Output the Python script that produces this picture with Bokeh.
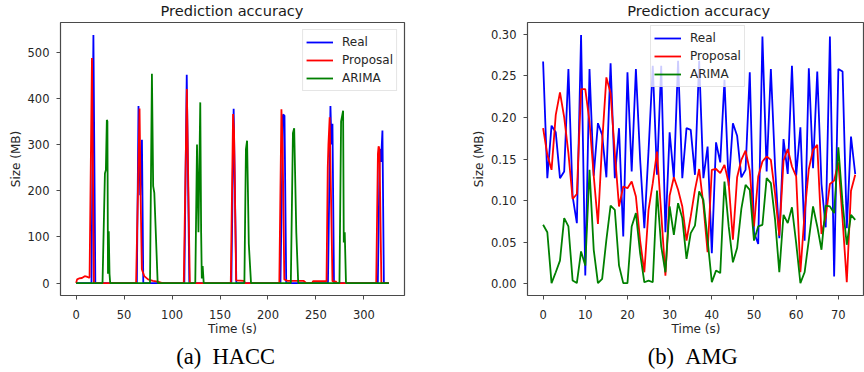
from bokeh.plotting import figure
from bokeh.models import Range1d, FixedTicker, NumeralTickFormatter, Title
from bokeh.layouts import row
from bokeh.embed import file_html
from bokeh.resources import INLINE

# ---------------- HACC data (polyline vertices) ----------------
hacc_real_t = [0, 16, 18, 20, 63.3, 65, 66.8, 68.6, 70, 112.8, 115.3, 118, 161.8, 164.2, 167,
               213, 215.6, 217.2, 219, 262.5, 265.1, 266.2, 267.2, 268.8, 314.5, 316.5, 317.8,
               319.3, 320.8, 326]
hacc_real_v = [0, 0, 537, 0, 0, 383, 190, 310, 0, 0, 451, 0, 0, 377, 0,
               0, 365, 362, 0, 0, 383, 300, 345, 0, 0, 290, 262,
               330, 0, 0]
hacc_prop_t = [0, 1, 3, 6, 9, 11, 13, 14, 16.5, 18.5,
               62.5, 66.1, 67.3, 68.5, 71, 75, 80, 85, 90,
               112.2, 115.4, 118.5,
               161.2, 163.6, 164.6, 166.8, 175, 176,
               211.8, 214, 215.3, 217, 220, 237, 240,
               246, 247, 261, 262.3, 263, 264.3, 265.6, 267.2, 271, 272,
               312.8, 314.6, 315.3, 316.2, 318.2, 326]
hacc_prop_v = [0, 8, 10, 11, 15, 14, 12, 12, 487, 0,
               0, 378, 180, 30, 15, 8, 5, 3, 0,
               0, 420, 0,
               0, 366, 330, 6, 5, 0,
               0, 376, 290, 8, 5, 5, 0,
               0, 4, 4, 250, 300, 359, 200, 4, 3, 0,
               0, 280, 296, 290, 0, 0]
hacc_arima_t = [0, 27.5, 30, 31, 32, 32.6, 33.2, 34, 34.8, 35.5,
                77, 79, 80.3, 81.5, 85,
                124.2, 126, 127.5, 129.4, 130.3, 131, 131.9, 133,
                175.4, 177, 178.2, 180, 182.3,
                223.8, 226, 227.3, 229.5, 231.5,
                274.5, 276.2, 278.3, 279, 280, 281.3, 326]
hacc_arima_v = [0, 0, 237, 245, 353, 350, 20, 112, 20, 0,
                0, 453, 210, 195, 0,
                0, 300, 110, 391, 110, 10, 37, 0,
                0, 290, 308, 85, 0,
                0, 325, 335, 110, 0,
                0, 350, 373, 88, 110, 0, 0]
hacc_xticks = [0, 50, 100, 150, 200, 250, 300]
hacc_yticks = [0, 100, 200, 300, 400, 500]

# ---------------- AMG data (one value per second) ----------------
amg_t = list(range(75))
amg_real = [0.267, 0.127, 0.190, 0.182, 0.127, 0.135, 0.258, 0.105, 0.073, 0.299,
            0.010, 0.258, 0.130, 0.193, 0.179, 0.128, 0.265, 0.127, 0.187, 0.057,
            0.254, 0.135, 0.258, 0.150, 0.067, 0.160, 0.262, 0.131, 0.262, 0.062,
            0.182, 0.127, 0.268, 0.127, 0.187, 0.185, 0.131, 0.268, 0.127, 0.165,
            0.037, 0.170, 0.146, 0.245, 0.118, 0.193, 0.178, 0.128, 0.137, 0.254,
            0.062, 0.048, 0.297, 0.135, 0.258, 0.140, 0.055, 0.174, 0.132, 0.262,
            0.130, 0.188, 0.052, 0.259, 0.139, 0.255, 0.120, 0.068, 0.297, 0.009,
            0.258, 0.255, 0.067, 0.177, 0.132]
amg_prop = [0.187, 0.155, 0.137, 0.203, 0.230, 0.200, 0.157, 0.102, 0.108, 0.234,
            0.234, 0.195, 0.130, 0.072, 0.170, 0.248, 0.229, 0.157, 0.093, 0.117,
            0.115, 0.123, 0.105, 0.052, 0.014, 0.089, 0.121, 0.159, 0.085, 0.010,
            0.106, 0.128, 0.113, 0.093, 0.052, 0.081, 0.113, 0.138, 0.095, 0.038,
            0.137, 0.138, 0.133, 0.143, 0.121, 0.053, 0.128, 0.149, 0.160, 0.136,
            0.069, 0.129, 0.147, 0.153, 0.149, 0.108, 0.058, 0.148, 0.162, 0.141,
            0.129, 0.014, 0.085, 0.138, 0.161, 0.167, 0.060, 0.080, 0.120, 0.124,
            0.146, 0.078, 0.002, 0.112, 0.131]
amg_arima = [0.071, 0.062, 0.001, 0.014, 0.028, 0.079, 0.069, 0.004, 0.001, 0.039,
             0.022, 0.137, 0.041, 0.001, 0.006, 0.053, 0.094, 0.089, 0.022, 0.001,
             0.001, 0.069, 0.085, 0.037, 0.002, 0.004, 0.002, 0.112, 0.045, 0.014,
             0.093, 0.059, 0.097, 0.079, 0.030, 0.061, 0.070, 0.111, 0.101, 0.053,
             0.002, 0.016, 0.013, 0.123, 0.069, 0.026, 0.043, 0.090, 0.119, 0.113,
             0.052, 0.069, 0.071, 0.127, 0.121, 0.077, 0.014, 0.083, 0.073, 0.092,
             0.049, 0.001, 0.014, 0.053, 0.093, 0.069, 0.041, 0.094, 0.093, 0.085,
             0.164, 0.097, 0.047, 0.083, 0.077]
amg_xticks = [0, 10, 20, 30, 40, 50, 60, 70]
amg_yticks = [0.00, 0.05, 0.10, 0.15, 0.20, 0.25, 0.30]

series_names = ["Real", "Proposal", "ARIMA"]
series_colors = ["#0000ff", "#ff0000", "#008000"]
title_text = "Prediction accuracy"
xlabel = "Time (s)"
ylabel = "Size (MB)"
captions = ["(a)\u00a0\u00a0HACC", "(b)\u00a0\u00a0AMG"]

FONT = "DejaVu Sans"
TXT = "#262626"
SPINE = "#4a4a4a"
H = 372
FRAME_TOP = 22
FRAME_BOTTOM = 77


def pad(lo, hi, f=0.05):
    d = (hi - lo) * f
    return lo - d, hi + d


def style_axes(p, xticks, yticks):
    for ax in (p.xaxis[0], p.yaxis[0]):
        ax.major_tick_in = 0
        ax.major_tick_out = 4
        ax.minor_tick_line_color = None
        ax.major_tick_line_color = SPINE
        ax.major_tick_line_width = 1
        ax.major_label_text_font = FONT
        ax.major_label_text_font_size = "11.5px"
        ax.major_label_text_color = TXT
        ax.axis_label_text_font = FONT
        ax.axis_label_text_font_size = "12px"
        ax.axis_label_text_font_style = "normal"
        ax.axis_label_text_color = TXT
        ax.axis_line_color = None
    p.xaxis[0].ticker = FixedTicker(ticks=xticks)
    p.yaxis[0].ticker = FixedTicker(ticks=yticks)
    p.xaxis[0].axis_label = xlabel
    p.yaxis[0].axis_label = ylabel
    p.xaxis[0].major_label_standoff = 10
    p.xaxis[0].axis_label_standoff = 0
    p.yaxis[0].major_label_standoff = 7
    p.yaxis[0].axis_label_standoff = 2
    p.xgrid.visible = False
    p.ygrid.visible = False
    p.outline_line_color = SPINE
    p.outline_line_width = 1.2
    p.outline_line_alpha = 1.0


def style_legend(p):
    leg = p.legend[0]
    leg.padding = 3
    leg.spacing = 0
    leg.glyph_height = 18
    leg.glyph_width = 27
    leg.label_height = 18
    leg.label_standoff = 9
    leg.label_text_font = FONT
    leg.label_text_font_size = "12px"
    leg.label_text_color = TXT
    leg.border_line_color = "#cccccc"
    leg.border_line_width = 1
    leg.background_fill_color = "white"
    leg.background_fill_alpha = 0.8


def add_titles(p, title_offset, cap_offset, cap):
    p.title.text = title_text
    p.title.align = "left"
    p.title.offset = title_offset
    p.title.standoff = 3
    p.title.vertical_align = "top"
    p.title.text_font = FONT
    p.title.text_font_size = "14.6px"
    p.title.text_font_style = "normal"
    p.title.text_color = "#1a1a1a"
    p.add_layout(Title(text=cap, align="left", offset=cap_offset, standoff=7,
                       vertical_align="bottom", text_font="Liberation Serif",
                       text_font_size="22.5px", text_font_style="normal",
                       text_color="black"), "below")


# ---------------- left: HACC ----------------
all_t = hacc_real_t + hacc_prop_t + hacc_arima_t
xl0, xl1 = pad(min(all_t), max(all_t))
yl0, yl1 = pad(0, max(hacc_real_v + hacc_prop_v + hacc_arima_v))
p1 = figure(width=430, height=H, x_range=Range1d(xl0, xl1), y_range=Range1d(yl0, yl1),
            output_backend="svg", toolbar_location=None,
            min_border_left=60, min_border_right=26, min_border_top=FRAME_TOP,
            min_border_bottom=FRAME_BOTTOM)
for t, v, name, col in zip([hacc_real_t, hacc_prop_t, hacc_arima_t],
                           [hacc_real_v, hacc_prop_v, hacc_arima_v],
                           series_names, series_colors):
    p1.line(t, v, line_color=col, line_width=1.8, legend_label=name)
style_axes(p1, hacc_xticks, hacc_yticks)
style_legend(p1)
p1.legend[0].location = "top_right"
p1.legend[0].margin = 7
add_titles(p1, 100, 115.7, captions[0])

# ---------------- right: AMG ----------------
yr0, yr1 = pad(min(amg_real + amg_prop + amg_arima), max(amg_real + amg_prop + amg_arima))
xr0 = -3.7
xr1 = 76.2   # the reference's right part of the axes box is cut off by the picture's edge
p2 = figure(width=434, height=H, x_range=Range1d(xr0, xr1), y_range=Range1d(yr0, yr1),
            output_backend="svg", toolbar_location=None,
            min_border_left=97, min_border_right=0, min_border_top=FRAME_TOP,
            min_border_bottom=FRAME_BOTTOM)
for v, name, col in zip([amg_real, amg_prop, amg_arima], series_names, series_colors):
    p2.line(amg_t, v, line_color=col, line_width=1.8, legend_label=name)
style_axes(p2, amg_xticks, amg_yticks)
p2.yaxis[0].formatter = NumeralTickFormatter(format="0.00")
style_legend(p2)
p2.legend[0].location = (123, 208)
p2.legend[0].margin = 0
add_titles(p2, 99.7, 120.3, captions[1])

layout = row(p1, p2)
open("out.html", "w").write(file_html(layout, INLINE))
